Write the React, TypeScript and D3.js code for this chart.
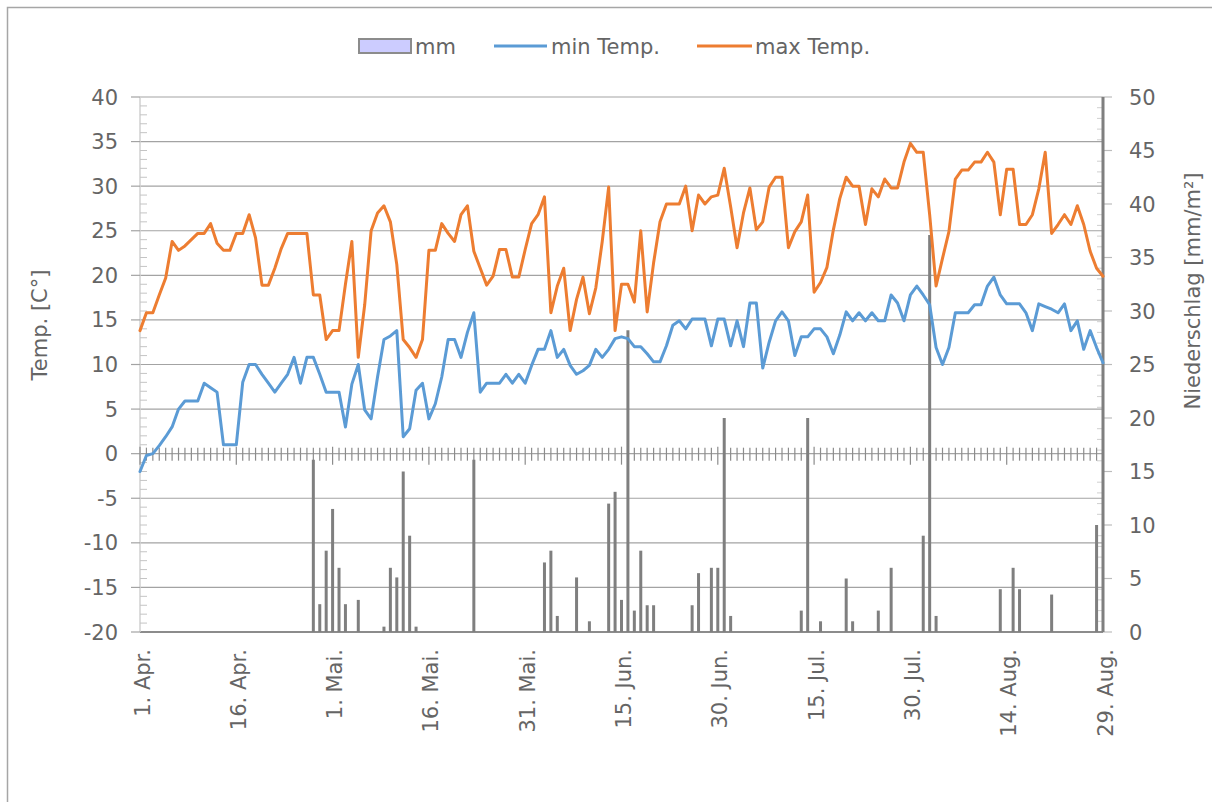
import React from "react";
import * as d3 from "d3";

// ---- data ----
const xTickDays = [0, 15, 30, 45, 60, 75, 90, 105, 120, 135, 150];
const xTickLabels = ["1. Apr.", "16. Apr.", "1. Mai.", "16. Mai.", "31. Mai.", "15. Jun.", "30. Jun.", "15. Jul.", "30. Jul.", "14. Aug.", "29. Aug."];
const tempTicks = [-20, -15, -10, -5, 0, 5, 10, 15, 20, 25, 30, 35, 40];
const rainTicks = [0, 5, 10, 15, 20, 25, 30, 35, 40, 45, 50];

// daily max temperature, 1. Apr. .. 29. Aug.
const maxTemp = [
  13.8, 15.8, 15.8, 17.8, 19.7, 23.8, 22.8, 23.3, 24, 24.7,
  24.7, 25.8, 23.6, 22.8, 22.8, 24.7, 24.7, 26.8, 24.2, 18.9,
  18.9, 20.8, 23, 24.7, 24.7, 24.7, 24.7, 17.8, 17.8, 12.8,
  13.8, 13.8, 19, 23.8, 10.8, 16.7, 25, 27, 27.8, 26,
  21.2, 12.8, 11.9, 10.8, 12.8, 22.8, 22.8, 25.8, 24.7, 23.8,
  26.8, 27.8, 22.7, 20.8, 18.9, 19.9, 22.9, 22.9, 19.8, 19.8,
  22.9, 25.8, 26.8, 28.8, 15.8, 18.8, 20.8, 13.8, 17.3, 19.8,
  15.7, 18.6, 23.8, 29.9, 13.8, 19, 19, 17, 25, 15.9,
  21.4, 26, 28, 28, 28, 30, 25, 29, 28, 28.8,
  29, 32, 27.7, 23.1, 27, 29.8, 25.1, 26, 29.9, 31,
  31, 23.1, 24.9, 26, 29, 18.1, 19.2, 20.9, 25.1, 28.6,
  31, 30, 30, 25.7, 29.7, 28.8, 30.8, 29.8, 29.8, 32.7,
  34.8, 33.8, 33.8, 26.8, 18.8, 21.9, 24.9, 30.8, 31.8, 31.8,
  32.7, 32.7, 33.8, 32.7, 26.8, 31.9, 31.9, 25.7, 25.7, 26.8,
  29.7, 33.8, 24.7, 25.7, 26.8, 25.7, 27.8, 25.7, 22.7, 20.8,
  19.9,
];

// daily min temperature
const minTemp = [
  -2, -0.2, 0, 0.9, 1.9, 3, 5, 5.9, 5.9, 5.9,
  7.9, 7.4, 6.9, 1, 1, 1, 8, 10, 10, 8.9,
  7.9, 6.9, 7.9, 8.9, 10.8, 7.9, 10.8, 10.8, 8.9, 6.9,
  6.9, 6.9, 3, 7.8, 10, 4.9, 3.9, 8.6, 12.8, 13.2,
  13.8, 1.9, 2.8, 7.1, 7.9, 3.9, 5.6, 8.6, 12.8, 12.8,
  10.8, 13.6, 15.8, 6.9, 7.9, 7.9, 7.9, 8.9, 7.9, 8.9,
  7.9, 9.9, 11.7, 11.7, 13.8, 10.8, 11.7, 9.9, 8.9, 9.3,
  9.9, 11.7, 10.8, 11.7, 12.9, 13.1, 12.9, 12, 12, 11.2,
  10.3, 10.3, 12.1, 14.4, 14.9, 14, 15.1, 15.1, 15.1, 12.1,
  15.1, 15.1, 12.1, 14.9, 12, 16.9, 16.9, 9.6, 12.5, 14.9,
  15.9, 14.9, 11, 13.1, 13.1, 14, 14, 13.1, 11.2, 13.3,
  15.9, 14.9, 15.8, 14.9, 15.8, 14.9, 14.9, 17.8, 16.9, 14.9,
  17.8, 18.8, 17.8, 16.7, 11.9, 10, 11.9, 15.8, 15.8, 15.8,
  16.7, 16.7, 18.8, 19.8, 17.8, 16.8, 16.8, 16.8, 15.8, 13.8,
  16.8, 16.5, 16.2, 15.8, 16.8, 13.8, 14.9, 11.7, 13.8, 11.9,
  10.2,
];

// precipitation days (day offset from 1. Apr.) and amounts in mm
const rainDay = [27, 28, 29, 30, 31, 32, 34, 38, 39, 40, 41, 42, 43, 52, 63, 64, 65, 68, 70, 73, 74, 75, 76, 77, 78, 79, 80, 86, 87, 89, 90, 91, 92, 103, 104, 106, 110, 111, 115, 117, 122, 123, 124, 134, 136, 137, 142, 149, 150];
const rainMm = [16.1, 2.6, 7.6, 11.5, 6, 2.6, 3, 0.5, 6, 5.1, 15, 9, 0.5, 16.1, 6.5, 7.6, 1.5, 5.1, 1, 12, 13.1, 3, 28.2, 2, 7.6, 2.5, 2.5, 2.5, 5.5, 6, 6, 20, 1.5, 2, 20, 1, 5, 1, 2, 6, 9, 37.1, 1.5, 4, 6, 4, 3.5, 10, 50];

const FONT = "'DejaVu Sans', sans-serif";
const TXT = "#656565";

export default function App() {
  const x = d3.scaleLinear().domain([0, 150]).range([140, 1103]);
  const yT = d3.scaleLinear().domain([-20, 40]).range([632, 97]);
  const yR = d3.scaleLinear().domain([0, 50]).range([632, 97]);

  const line = d3
    .line<number>()
    .x((_, i) => x(i))
    .y((d) => yT(d));

  const y0 = yT(0);
  const days = d3.range(0, 151);
  const minorT = d3.range(-20, 41).filter((v) => v % 5 !== 0);
  const minorR = d3.range(0, 51).filter((v) => v % 5 !== 0);
  const barW = 3;

  return (
    <div style={{ position: "absolute", left: 0, top: 0 }}>
      <svg width={1212} height={802} style={{ display: "block", background: "#fff" }}>
        {/* frame */}
        <rect x={7.5} y={7.5} width={1230} height={830} fill="#fff" stroke="#a6a6a6" strokeWidth={1.5} />

        {/* horizontal gridlines */}
        {tempTicks.map((t) => (
          <line key={"g" + t} x1={x(0)} x2={x(150)} y1={yT(t)} y2={yT(t)} stroke={t === -20 ? "#8c8c8c" : "#a3a3a3"} strokeWidth={t === -20 ? 2 : 1.2} />
        ))}

        {/* left axis */}
        <line x1={140} x2={140} y1={yT(40)} y2={yT(-20)} stroke="#d0d0d0" strokeWidth={1.5} />
        {tempTicks.map((t) => (
          <line key={"lt" + t} x1={131} x2={140} y1={yT(t)} y2={yT(t)} stroke="#a3a3a3" strokeWidth={1.2} />
        ))}
        {minorT.map((t) => (
          <line key={"lm" + t} x1={140} x2={147} y1={yT(t)} y2={yT(t)} stroke="#c4c4c4" strokeWidth={1} />
        ))}
        {tempTicks.map((t) => (
          <text key={"ll" + t} x={118} y={yT(t)} dy="0.36em" textAnchor="end" fontFamily={FONT} fontSize={21} fill={TXT}>
            {t}
          </text>
        ))}

        {/* right axis */}
        <line x1={1103} x2={1103} y1={yR(50)} y2={yR(0)} stroke="#c8c8c8" strokeWidth={1.5} />
        {rainTicks.map((t) => (
          <line key={"rt" + t} x1={1103} x2={1112} y1={yR(t)} y2={yR(t)} stroke="#bcbcbc" strokeWidth={1.2} />
        ))}
        {minorR.map((t) => (
          <line key={"rm" + t} x1={1097} x2={1103} y1={yR(t)} y2={yR(t)} stroke="#cfcfcf" strokeWidth={1} />
        ))}
        {rainTicks.map((t) => (
          <text key={"rl" + t} x={1129} y={yR(t)} dy="0.36em" textAnchor="start" fontFamily={FONT} fontSize={21} fill={TXT}>
            {t}
          </text>
        ))}

        {/* zero line with daily ticks */}
        {days.map((d) => {
          const major = d % 15 === 0;
          return (
            <line key={"dt" + d} x1={x(d)} x2={x(d)} y1={y0 - (major ? 7 : 6)} y2={y0 + (major ? 11 : 7)} stroke="#8c8c8c" strokeWidth={1.2} />
          );
        })}

        {/* precipitation bars */}
        {rainDay.map((d, i) => (
          <rect key={"b" + d} x={x(d) - barW / 2} y={yR(rainMm[i])} width={barW} height={yR(0) - yR(rainMm[i])} fill="#7f7f7f" />
        ))}

        {/* temperature lines */}
        <path d={line(minTemp) || ""} fill="none" stroke="#5b9bd5" strokeWidth={3} strokeLinejoin="round" strokeLinecap="round" />
        <path d={line(maxTemp) || ""} fill="none" stroke="#ed7d31" strokeWidth={3} strokeLinejoin="round" strokeLinecap="round" />

        {/* x labels */}
        {xTickDays.map((d, i) => (
          <text key={"xl" + d} transform={`translate(${x(d) + 9.5},649) rotate(-90)`} textAnchor="end" fontFamily={FONT} fontSize={21} fill={TXT}>
            {xTickLabels[i]}
          </text>
        ))}

        {/* axis titles */}
        <text transform="translate(47,325) rotate(-90)" textAnchor="middle" fontFamily={FONT} fontSize={21} fill={TXT}>
          Temp. [C°]
        </text>
        <text transform="translate(1200,291) rotate(-90)" textAnchor="middle" fontFamily={FONT} fontSize={21} fill={TXT}>
          Niederschlag [mm/m²]
        </text>

        {/* legend */}
        <rect x={359} y={39} width={52} height={14} fill="#ccccff" stroke="#8c8c8c" strokeWidth={2} />
        <text x={415} y={46} dy="0.36em" fontFamily={FONT} fontSize={21} fill={TXT}>mm</text>
        <line x1={494} x2={547} y1={46} y2={46} stroke="#5b9bd5" strokeWidth={3} />
        <text x={551} y={46} dy="0.36em" fontFamily={FONT} fontSize={21} fill={TXT}>min Temp.</text>
        <line x1={697} x2={752} y1={46} y2={46} stroke="#ed7d31" strokeWidth={3} />
        <text x={755} y={46} dy="0.36em" fontFamily={FONT} fontSize={21} fill={TXT}>max Temp.</text>
      </svg>
    </div>
  );
}
